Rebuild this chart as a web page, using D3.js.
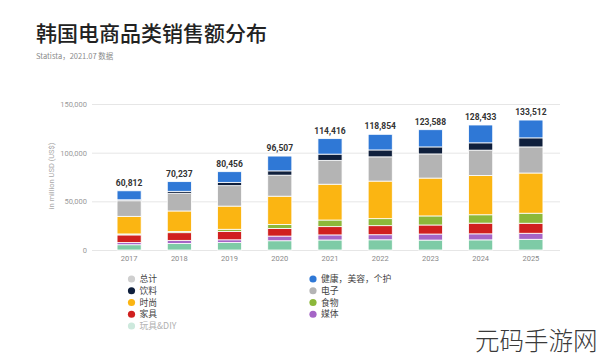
<!DOCTYPE html>
<html><head><meta charset="utf-8">
<script src="https://cdn.jsdelivr.net/npm/d3@7"></script>
<style>
html,body{margin:0;padding:0;background:#fff;}
svg{display:block;font-family:"Noto Sans CJK SC","Noto Sans",sans-serif;}
</style></head>
<body><svg id="c" width="600" height="364"></svg>
<script>
const years = ["2017","2018","2019","2020","2021","2022","2023","2024","2025"];
const totals = [60812,70237,80456,96507,114416,118854,123588,128433,133512];
// stacked segments, bottom to top (million US$)
const toys        = [5400,6800,7700,9500,10300,10500,10200,10400,11000];
const media       = [2300,3100,2800,4800,5200,5200,6200,6200,6200];
const furniture   = [7800,7900,8500,7900,8500,9300,9300,11000,10300];
const food        = [1000,1300,2300,4100,6800,7200,9300,8600,10300];
const fashion     = [18100,21000,23800,29000,36800,38600,38900,40300,41300];
const electronics = [16000,18200,21000,21600,24500,24900,24800,26100,26800];
const beverages   = [1000,2000,3400,4400,6400,7100,7200,7500,9300];
const health      = [9212,9937,10956,15207,15916,16054,17688,18333,18312];
const yTicks = [0,50000,100000,150000];

const seriesNames = ["玩具&DIY","媒体","家具","食物","时尚","电子","饮料","健康，美容，个护"];
const seriesData = [toys,media,furniture,food,fashion,electronics,beverages,health];
const colors = ["#7ecba6","#a565c6","#d0201f","#8cb83a","#fbb512","#b4b4b4","#0f1f3c","#2f78d6"];

const svg = d3.select("#c");
const x = d3.scaleBand().domain(years).range([104,556]).paddingInner(0.52).paddingOuter(0.26);
const y = d3.scaleLinear().domain([0,150000]).range([250,104]);

// title
svg.append("text").attr("x",36).attr("y",41).attr("font-size",21).attr("font-weight",500)
  .attr("fill","#222").text("韩国电商品类销售额分布");
svg.append("text").attr("x",36).attr("y",59).attr("font-size",7.5).attr("fill","#8a8a8a")
  .text("Statista，2021.07 数据");

// grid + y axis
const yAxis = d3.axisLeft(y).tickValues(yTicks).tickSize(-(560-92)).tickFormat(d3.format(","));
const gy = svg.append("g").attr("transform","translate(92,0)").call(yAxis);
gy.select(".domain").remove();
gy.selectAll(".tick line").attr("stroke","#e6e6e6").attr("stroke-width",1);
gy.selectAll(".tick text").attr("x",-5).attr("fill","#9a9a9a").attr("font-size",7.5)
  .attr("font-family","Roboto,'Noto Sans',sans-serif");

svg.append("text").attr("transform","translate(54,176) rotate(-90)").attr("text-anchor","middle")
  .attr("font-size",7.5).attr("fill","#a8a8a8").attr("font-family","Roboto,'Noto Sans',sans-serif")
  .text("in million USD (US$)");

// x axis
const xAxis = d3.axisBottom(x).tickSize(0);
const gx = svg.append("g").attr("transform","translate(0,250)").call(xAxis);
gx.select(".domain").remove();
gx.selectAll(".tick text").attr("dy",0).attr("y",11).attr("fill","#8a8a8a").attr("font-size",7.5)
  .attr("font-family","Roboto,'Noto Sans',sans-serif");

// stacked bars
const rows = years.map((yr,i)=>{const o={year:yr}; seriesNames.forEach((s,k)=>o[s]=seriesData[k][i]); return o;});
const stack = d3.stack().keys(seriesNames)(rows);
svg.append("g").selectAll("g").data(stack).join("g").attr("fill",(d,i)=>colors[i])
  .selectAll("rect").data(d=>d).join("rect")
  .attr("x",d=>x(d.data.year)).attr("width",x.bandwidth())
  .attr("y",d=>y(d[1])).attr("height",d=>Math.max(0,y(d[0])-y(d[1])))
  .attr("stroke","#fff").attr("stroke-width",0.8);

// total labels
svg.append("g").selectAll("text").data(years).join("text")
  .attr("x",d=>x(d)+x.bandwidth()/2).attr("y",(d,i)=>y(totals[i])-5)
  .attr("text-anchor","middle").attr("font-size",8.5).attr("font-weight",700).attr("fill","#333")
  .attr("font-family","Roboto,'Noto Sans',sans-serif")
  .text((d,i)=>d3.format(",")(totals[i]));

// legend
const legendLeft = [["总计","#cfcfcf","#444"],["饮料","#0f1f3c","#444"],["时尚","#fbb512","#444"],["家具","#d0201f","#444"],["玩具&DIY","#cde9dd","#b0b0b0"]];
const legendRight = [["健康，美容，个护","#2f78d6","#444"],["电子","#b4b4b4","#444"],["食物","#8cb83a","#444"],["媒体","#a565c6","#444"]];
function legend(items,cx){
  const g = svg.append("g");
  const it = g.selectAll("g").data(items).join("g").attr("transform",(d,i)=>`translate(${cx},${279+i*11.75})`);
  it.append("circle").attr("r",3.6).attr("fill",d=>d[1]);
  it.append("text").attr("x",8).attr("y",3.1).attr("font-size",8.8).attr("fill",d=>d[2]).text(d=>d[0]);
}
legend(legendLeft,131.5);
legend(legendRight,313);

// watermark
svg.append("text").attr("x",475).attr("y",350).attr("font-size",24.5).attr("font-weight",300)
  .attr("fill","#3a3a3a").text("元码手游网");
</script></body></html>
